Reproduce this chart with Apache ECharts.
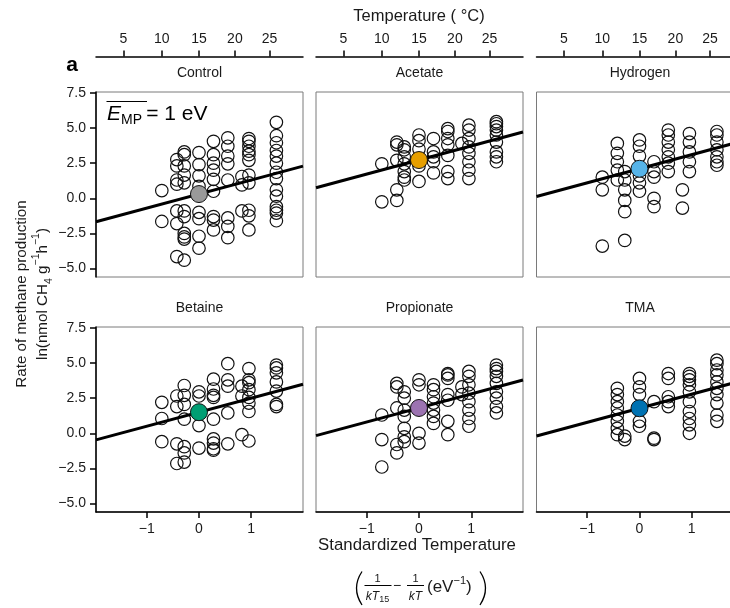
<!DOCTYPE html>
<html><head><meta charset="utf-8">
<script src="https://cdn.jsdelivr.net/npm/echarts@6/dist/echarts.min.js"></script>
<style>html,body{margin:0;padding:0;background:#fff}#c{width:730px;height:608px}</style>
</head><body><div id="c"></div>
<script>
// ---------- data (temperature in °C, ln rate values) ----------
const panelNames = ['Control', 'Acetate', 'Hydrogen', 'Betaine', 'Propionate', 'TMA'];

const controlData = [
  [10, [0.55, -1.65]],
  [12, [2.75, 2.3, 1.3, 1.0, -0.9, -1.8, -4.15]],
  [13, [3.3, 3.1, 2.3, 1.65, 1.1, -0.9, -1.3, -2.5, -2.75, -2.9, -4.4]],
  [15, [3.25, 2.4, 1.6, 0.85, -1.0, -1.45, -2.7, -3.55]],
  [17, [4.05, 3.1, 2.5, 2.0, 1.35, 0.5, -1.3, -1.55, -2.25]],
  [19, [4.3, 3.7, 3.0, 2.45, 1.3, -1.4, -2.0, -2.8]],
  [21, [1.55, 0.95, -0.9]],
  [22, [4.25, 4.05, 3.7, 3.35, 3.1, 2.7, 1.65, 1.1, -0.85, -1.25, -2.25]],
  [26, [5.4, 4.45, 3.95, 3.4, 3.0, 2.5, 1.85, 1.4, 0.6, 0.15, -0.6, -0.85, -1.05, -1.6]]
];
const acetateData = [
  [10, [2.45, -0.25]],
  [12, [4.0, 3.8, 2.7, 0.6, -0.15]],
  [13, [3.65, 3.45, 2.95, 2.45, 1.9, 1.5, 1.3]],
  [15, [4.5, 4.1, 3.5, 2.3, 1.2]],
  [17, [4.25, 3.3, 2.95, 2.6, 1.8]],
  [19, [4.95, 4.75, 4.25, 3.8, 3.05, 1.9, 1.4]],
  [21, [3.9]],
  [22, [5.2, 4.85, 4.25, 3.65, 3.2, 2.6, 2.0, 1.4]],
  [26, [5.45, 5.3, 5.1, 4.85, 4.5, 4.0, 3.3, 2.95, 2.6]]
];
const hydrogenData = [
  [10, [1.5, 0.6, -3.4]],
  [12, [3.9, 3.2, 2.6, 2.0, 1.3]],
  [13, [1.9, 1.3, 0.6, -0.15, -0.95, -3.0]],
  [15, [4.15, 3.7, 3.0, 1.6, 1.1, 0.5]],
  [17, [2.6, 1.9, 1.5, 0.0, -0.6]],
  [19, [4.85, 4.5, 4.0, 3.45, 2.95, 2.5, 1.9]],
  [21, [0.6, -0.7]],
  [22, [4.6, 4.0, 3.3, 2.6, 1.9]],
  [26, [4.75, 4.5, 4.0, 3.45, 2.95, 2.6, 2.35]]
];
const betaineData = [
  [10, [2.2, 1.05, -0.6]],
  [12, [2.65, 1.9, -0.75, -2.15]],
  [13, [3.4, 2.7, 2.05, 1.0, -0.95, -1.4, -2.05]],
  [15, [2.95, 2.65, 0.55, -1.05]],
  [17, [3.85, 3.15, 2.7, 2.55, 1.0, -0.4, -0.7, -1.1, -1.2]],
  [19, [4.95, 3.8, 3.35, 1.45, -0.75]],
  [21, [3.35, 2.65, -0.1]],
  [22, [4.6, 3.8, 3.6, 3.1, 2.55, 2.15, 1.55, -0.55]],
  [26, [4.85, 4.65, 4.3, 3.65, 3.0, 2.05, 1.9]]
];
const propionateData = [
  [10, [1.3, -0.45, -2.4]],
  [12, [3.55, 3.3, 1.8, -0.8, -1.4]],
  [13, [2.95, 2.5, 1.65, 1.2, 0.35, -0.25, -0.6]],
  [15, [3.8, 3.45, 0.0, -0.7]],
  [17, [3.45, 3.1, 2.6, 2.15, 1.65, 1.2, 0.7]],
  [19, [4.25, 4.15, 3.9, 2.75, 2.35, 0.85, -0.1]],
  [21, [3.3, 2.75]],
  [22, [4.4, 4.05, 3.45, 2.85, 2.25, 1.65, 1.05, 0.5]],
  [26, [4.85, 4.6, 4.4, 4.05, 3.55, 2.95, 2.5, 1.9, 1.45]]
];
const tmaData = [
  [12, [3.2, 2.75, 2.25, 1.8, 1.3, 0.85, 0.35, -0.1]],
  [13, [-0.2, -0.45]],
  [15, [3.9, 3.3, 2.75, 0.85, 0.5]],
  [17, [2.25, -0.35, -0.45]],
  [19, [4.25, 3.9, 2.6, 2.25, 1.9]],
  [22, [4.25, 4.05, 3.8, 3.45, 2.95, 2.25, 1.55, 1.05, 0.6, 0.0]],
  [26, [5.2, 4.95, 4.5, 4.15, 3.65, 3.2, 2.75, 2.15, 1.3, 0.85]]
];

// mean rate at 15 °C (fitted intercepts) and common activation energy (slope, eV)
const centroidValues = [0.3, 2.72, 2.1, 1.5, 1.8, 1.78];
const activationEnergy = 1;

// tick labels
const tempTicksC = [5, 10, 15, 20, 25];
const stdTicks = [-1, 0, 1];
const rateTicks = [-5, -2.5, 0, 2.5, 5, 7.5];

// ---------- styles ----------
const centroidColors = ['#9a9a9a', '#E69F00', '#56B4E9', '#009E73', '#9C73B1', '#0072B2'];
const FONT = '"Liberation Sans", Arial, Helvetica, sans-serif';
const TXT = '#1a1a1a';

// ---------- helpers ----------
const kB = 8.617e-5, Tref = 288.15;
const toStd = tC => (1 / kB) * (1 / Tref - 1 / (tC + 273.15));
const fromStd = s => 1 / (1 / Tref - s * kB) - 273.15;
const minus = v => (v < 0 ? '\u2212' : '');

const X_MIN = -1.97, X_MAX = 1.99, Y_MIN = -5.6, Y_MAX = 7.56;
const lefts = [96, 316, 536.5];
const tops = [92, 327];
const W = 207, H = 185;

const allData = [controlData, acetateData, hydrogenData, betaineData, propionateData, tmaData];

const grids = [], xAxes = [], yAxes = [], series = [];
const axisLineStyle = { color: '#000', width: 1.5 };
const labelBase = { fontSize: 14, color: TXT, fontFamily: FONT };

for (let i = 0; i < 6; i++) {
  const col = i % 3, row = Math.floor(i / 3);
  grids.push({ left: lefts[col], top: tops[row], width: W, height: H, show: true,
    outerBoundsMode: 'none', containLabel: false,
    borderColor: '#7a7a7a', borderWidth: 1, backgroundColor: 'transparent' });
  xAxes.push({
    gridIndex: i, type: 'value', min: X_MIN, max: X_MAX, show: row === 1,
    axisLine: { show: true, onZero: false, lineStyle: axisLineStyle },
    axisTick: { show: true, length: 6, lineStyle: axisLineStyle, customValues: stdTicks },
    axisLabel: Object.assign({ customValues: stdTicks, margin: 10,
      formatter: v => minus(v) + Math.abs(v) }, labelBase),
    splitLine: { show: false }
  });
  yAxes.push({
    gridIndex: i, type: 'value', min: Y_MIN, max: Y_MAX, show: col === 0,
    axisLine: { show: true, onZero: false, lineStyle: axisLineStyle },
    axisTick: { show: true, length: 6, lineStyle: axisLineStyle, customValues: rateTicks },
    axisLabel: Object.assign({ customValues: rateTicks, margin: 10,
      formatter: v => minus(v) + Math.abs(v).toFixed(1) }, labelBase),
    splitLine: { show: false }
  });

  const pts = [];
  allData[i].forEach(([t, vals]) => vals.forEach(v => pts.push([toStd(t), v])));
  series.push({
    type: 'scatter', xAxisIndex: i, yAxisIndex: i, data: pts, symbol: 'circle', symbolSize: 12.5,
    itemStyle: { color: 'rgba(255,255,255,0)', borderColor: '#111', borderWidth: 1.2, opacity: 1 },
    z: 2, silent: true
  });
  const c = centroidValues[i];
  series.push({
    type: 'line', xAxisIndex: i, yAxisIndex: i, showSymbol: false, symbol: 'none',
    data: [[X_MIN, c + activationEnergy * X_MIN], [X_MAX, c + activationEnergy * X_MAX]],
    lineStyle: { color: '#000', width: 3 }, z: 3, silent: true
  });
  series.push({
    type: 'scatter', xAxisIndex: i, yAxisIndex: i, data: [[0, c]], symbol: 'circle', symbolSize: 17,
    itemStyle: { color: centroidColors[i], borderColor: '#111', borderWidth: 1, opacity: 1 }, z: 4, silent: true
  });
}

// top temperature axes
const tempPos = tempTicksC.map(toStd);
for (let col = 0; col < 3; col++) {
  xAxes.push({
    gridIndex: col, type: 'value', position: 'top', offset: 35.5, min: X_MIN, max: X_MAX,
    axisLine: { show: true, onZero: false, lineStyle: axisLineStyle },
    axisTick: { show: true, length: 6, lineStyle: axisLineStyle, customValues: tempPos },
    axisLabel: Object.assign({ customValues: tempPos, margin: 10,
      formatter: v => String(Math.round(fromStd(v))) }, labelBase),
    splitLine: { show: false }
  });
}

// ---------- annotations ----------
const txt = (x, y, text, extra) => ({ type: 'text', x, y, silent: true, z: 10,
  style: Object.assign({ text, fontFamily: FONT, fontSize: 14, fill: TXT, align: 'center', verticalAlign: 'middle' }, extra || {}) });

const graphics = [];
graphics.push(txt(419, 16, 'Temperature ( \u00B0C)', { fontSize: 16.5 }));
graphics.push(txt(72, 65, 'a', { fontSize: 21, fontWeight: 'bold', fill: '#000' }));
for (let i = 0; i < 6; i++) {
  const col = i % 3, row = Math.floor(i / 3);
  graphics.push(txt(lefts[col] + W / 2, row === 0 ? 73.5 : 308.5, panelNames[i], { fontSize: 14 }));
}
// E_MP label
graphics.push({ type: 'text', x: 107, y: 114, silent: true, z: 10,
  style: { text: '{e|E}{s|MP}{n|\u2009= 1 eV}', align: 'left', verticalAlign: 'middle', fill: '#000',
    rich: {
      e: { fontSize: 21, fontStyle: 'italic', fontFamily: FONT, lineHeight: 26, verticalAlign: 'middle' },
      s: { fontSize: 14, fontFamily: FONT, lineHeight: 26, verticalAlign: 'bottom' },
      n: { fontSize: 21, fontFamily: FONT, lineHeight: 26, verticalAlign: 'middle' }
    } } });
graphics.push({ type: 'line', silent: true, z: 10, shape: { x1: 106.5, y1: 101.5, x2: 147, y2: 101.5 },
  style: { stroke: '#000', lineWidth: 1.2 } });

// y-axis titles (rotated)
graphics.push(txt(22, 294, 'Rate of methane production', { fontSize: 15.2 }));
graphics[graphics.length - 1].rotation = Math.PI / 2;
graphics.push({ type: 'text', x: 43, y: 294, rotation: Math.PI / 2, silent: true, z: 10,
  style: { text: '{n|ln(nmol CH}{b|4}{n| g}{p|\u22121}{n|h}{p|\u22121}{n|)}', align: 'center', verticalAlign: 'middle', fill: TXT,
    rich: {
      n: { fontSize: 15.2, fontFamily: FONT, lineHeight: 24, verticalAlign: 'middle', fill: TXT },
      b: { fontSize: 10.5, fontFamily: FONT, lineHeight: 24, verticalAlign: 'bottom', fill: TXT },
      p: { fontSize: 10.5, fontFamily: FONT, lineHeight: 24, verticalAlign: 'top', fill: TXT }
    } } });

// x-axis title
graphics.push(txt(417, 545, 'Standardized Temperature', { fontSize: 16.8 }));

// formula (1/kT15 - 1/kT (eV^-1))
graphics.push({ type: 'bezierCurve', silent: true, z: 10,
  shape: { x1: 362, y1: 571.5, x2: 362, y2: 605, cpx1: 351, cpy1: 588.25 },
  style: { stroke: '#000', lineWidth: 1.3, fill: null } });
graphics.push({ type: 'bezierCurve', silent: true, z: 10,
  shape: { x1: 480, y1: 571.5, x2: 480, y2: 605, cpx1: 491, cpy1: 588.25 },
  style: { stroke: '#000', lineWidth: 1.3, fill: null } });
graphics.push(txt(377.5, 579, '1', { fontSize: 11 }));
graphics.push({ type: 'line', silent: true, z: 10, shape: { x1: 364.5, y1: 585.5, x2: 391.5, y2: 585.5 },
  style: { stroke: '#000', lineWidth: 1 } });
graphics.push({ type: 'text', x: 377.5, y: 596.5, silent: true, z: 10,
  style: { text: '{i|kT}{s|15}', align: 'center', verticalAlign: 'middle', fill: TXT,
    rich: { i: { fontSize: 12, fontStyle: 'italic', fontFamily: FONT, lineHeight: 16, verticalAlign: 'middle' },
            s: { fontSize: 9, fontFamily: FONT, lineHeight: 16, verticalAlign: 'bottom' } } } });
graphics.push(txt(397, 586, '\u2212', { fontSize: 14 }));
graphics.push(txt(415.5, 579, '1', { fontSize: 11 }));
graphics.push({ type: 'line', silent: true, z: 10, shape: { x1: 407, y1: 585.5, x2: 424, y2: 585.5 },
  style: { stroke: '#000', lineWidth: 1 } });
graphics.push(txt(415.5, 596.5, 'kT', { fontSize: 12, fontStyle: 'italic' }));
graphics.push({ type: 'text', x: 427, y: 587, silent: true, z: 10,
  style: { text: '{n|(eV}{p|\u22121}{n|)}', align: 'left', verticalAlign: 'middle', fill: TXT,
    rich: { n: { fontSize: 17, fontFamily: FONT, lineHeight: 24, verticalAlign: 'middle' },
            p: { fontSize: 11, fontFamily: FONT, lineHeight: 24, verticalAlign: 'top' } } } });

const chart = echarts.init(document.getElementById('c'), null, { renderer: 'canvas' });
chart.setOption({
  animation: false,
  backgroundColor: '#fff',
  grid: grids,
  xAxis: xAxes,
  yAxis: yAxes,
  series: series,
  graphic: { elements: graphics }
});
</script>
</body></html>
